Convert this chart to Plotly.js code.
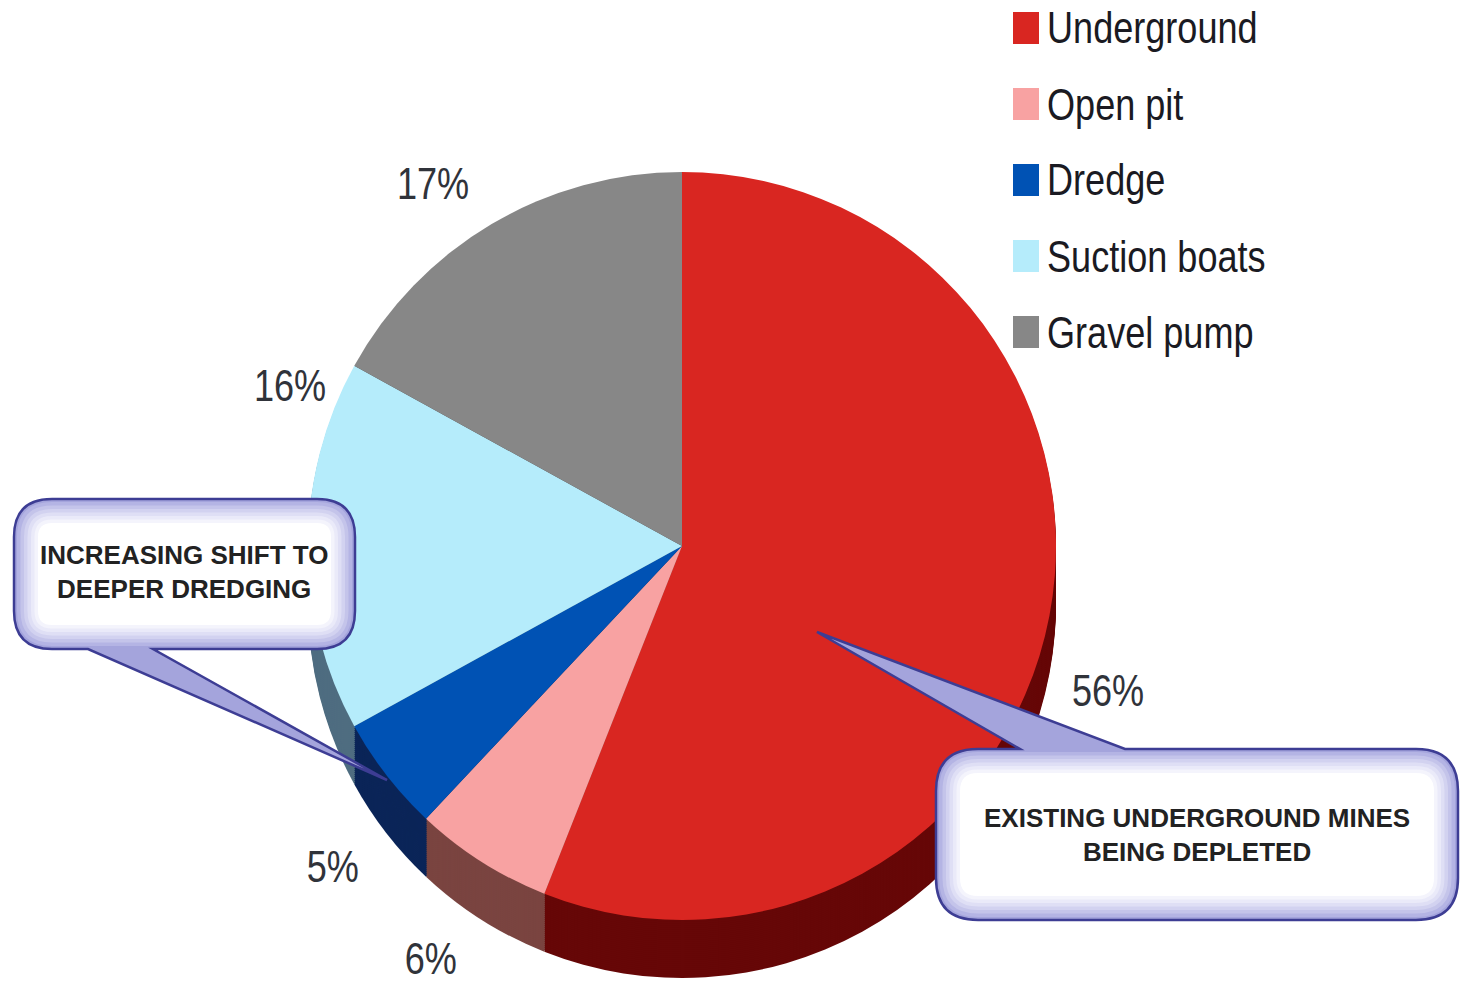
<!DOCTYPE html>
<html>
<head>
<meta charset="utf-8">
<script src="https://cdn.plot.ly/plotly-3.0.1.min.js"></script>
<style>html,body{margin:0;padding:0;background:#fff;}#chart{width:1462px;height:984px;}</style>
</head>
<body>
<div id="chart"></div>
<script>
// ---- data ----
const labels = ['Underground', 'Open pit', 'Dredge', 'Suction boats', 'Gravel pump'];
const values = [56, 6, 5, 16, 17];
const topColors = ['#d92621', '#f8a2a2', '#0052b4', '#b5ecfb', '#878787'];
const sideColors = ['#660707', '#7a4440', '#0b2558', '#4f6d80', '#4a4a4a'];
const calloutTexts = ['INCREASING SHIFT TO<br>DEEPER DREDGING', 'EXISTING UNDERGROUND MINES<br>BEING DEPLETED'];

// ---- layout helpers (pixels -> paper) ----
const W = 1462, H = 984;
const cx = 682, cy = 546, R = 374, depth = 58;
const px = x => x / W;
const py = y => 1 - y / H;
function dom(dy) {
  return { x: [px(cx - R), px(cx + R)], y: [py(cy + dy + R), py(cy + dy - R)] };
}
const FONT = '"Liberation Sans", Arial, sans-serif';

const traces = [];
for (let d = depth; d >= 1; d -= 2) {
  traces.push({
    type: 'pie', labels: labels, values: values, sort: false, direction: 'clockwise', rotation: 0,
    marker: { colors: sideColors, line: { width: 0 } }, textinfo: 'none', hoverinfo: 'none',
    showlegend: false, domain: dom(d)
  });
}
traces.push({
  type: 'pie', labels: labels, values: values, sort: false, direction: 'clockwise', rotation: 0,
  marker: { colors: topColors, line: { width: 0 } }, textinfo: 'none', hoverinfo: 'label+percent',
  showlegend: false, domain: dom(0)
});

// ---- percent labels (positions are layout) ----
const labelPos = [[1108, 690], [431, 958], [333, 866], [290, 385], [433, 183]];
const annotations = [];
values.forEach((v, i) => {
  annotations.push({
    xref: 'paper', yref: 'paper', x: px(labelPos[i][0]), y: py(labelPos[i][1]),
    xanchor: 'center', yanchor: 'middle', showarrow: false, text: v + '%',
    font: { family: FONT, size: 44, color: '#30333a' }
  });
});

// ---- custom legend ----
const shapes = [];
const legX = 1013, legY0 = 28, legStep = 76;
labels.forEach((l, i) => {
  const yc = legY0 + i * legStep;
  shapes.push({
    type: 'rect', xref: 'paper', yref: 'paper', layer: 'above',
    x0: px(legX), x1: px(legX + 26), y0: py(yc + 16), y1: py(yc - 16),
    fillcolor: topColors[i], line: { width: 0 }
  });
  annotations.push({
    xref: 'paper', yref: 'paper', x: px(1045), y: py(yc), xanchor: 'left', yanchor: 'middle',
    showarrow: false, text: l, font: { family: FONT, size: 44, color: '#1a1a22' }
  });
});

// ---- callouts ----
function P(x, y) { return px(x).toFixed(5) + ',' + py(y).toFixed(5); }
function roundRect(x0, y0, x1, y1, r) {
  return 'M' + P(x0 + r, y0) + ' L' + P(x1 - r, y0) + ' Q' + P(x1, y0) + ' ' + P(x1, y0 + r) +
    ' L' + P(x1, y1 - r) + ' Q' + P(x1, y1) + ' ' + P(x1 - r, y1) +
    ' L' + P(x0 + r, y1) + ' Q' + P(x0, y1) + ' ' + P(x0, y1 - r) +
    ' L' + P(x0, y0 + r) + ' Q' + P(x0, y0) + ' ' + P(x0 + r, y0) + ' Z';
}
function calloutBottomTail(x0, y0, x1, y1, r, ta, tb, tx, ty) {
  return 'M' + P(x0 + r, y0) + ' L' + P(x1 - r, y0) + ' Q' + P(x1, y0) + ' ' + P(x1, y0 + r) +
    ' L' + P(x1, y1 - r) + ' Q' + P(x1, y1) + ' ' + P(x1 - r, y1) +
    ' L' + P(tb, y1) + ' L' + P(tx, ty) + ' L' + P(ta, y1) +
    ' L' + P(x0 + r, y1) + ' Q' + P(x0, y1) + ' ' + P(x0, y1 - r) +
    ' L' + P(x0, y0 + r) + ' Q' + P(x0, y0) + ' ' + P(x0 + r, y0) + ' Z';
}
function calloutTopTail(x0, y0, x1, y1, r, ta, tb, tx, ty) {
  return 'M' + P(x0 + r, y0) + ' L' + P(ta, y0) + ' L' + P(tx, ty) + ' L' + P(tb, y0) +
    ' L' + P(x1 - r, y0) + ' Q' + P(x1, y0) + ' ' + P(x1, y0 + r) +
    ' L' + P(x1, y1 - r) + ' Q' + P(x1, y1) + ' ' + P(x1 - r, y1) +
    ' L' + P(x0 + r, y1) + ' Q' + P(x0, y1) + ' ' + P(x0, y1 - r) +
    ' L' + P(x0, y0 + r) + ' Q' + P(x0, y0) + ' ' + P(x0 + r, y0) + ' Z';
}
const glow = ['#b4b4e4', '#c4c4ea', '#d2d2f0', '#dfdff5', '#eaeaf9', '#f4f4fc', '#ffffff'];
function addCallout(box, pathStr) {
  shapes.push({ type: 'path', xref: 'paper', yref: 'paper', layer: 'above', path: pathStr,
    fillcolor: '#a4a4dc', line: { color: '#3d3d94', width: 2.5 } });
  glow.forEach((c, k) => {
    const ins = 3 + k * 3.5;
    shapes.push({ type: 'path', xref: 'paper', yref: 'paper', layer: 'above',
      path: roundRect(box[0] + ins, box[1] + ins, box[2] - ins, box[3] - ins, Math.max(box[4] - ins, 10)),
      fillcolor: c, line: { width: 0 } });
  });
}
const box1 = [14, 499, 355, 649, 38];
addCallout(box1, calloutBottomTail(box1[0], box1[1], box1[2], box1[3], box1[4], 88, 153, 387, 780));
const box2 = [936, 749, 1458, 920, 42];
addCallout(box2, calloutTopTail(box2[0], box2[1], box2[2], box2[3], box2[4], 1020, 1125, 817, 632));

const CFONT = { family: '"Liberation Sans", Arial, sans-serif', size: 26, color: '#222', weight: 700 };
annotations.push({ xref: 'paper', yref: 'paper', x: px(184), y: py(572), xanchor: 'center', yanchor: 'middle',
  showarrow: false, text: calloutTexts[0], align: 'center', font: CFONT });
annotations.push({ xref: 'paper', yref: 'paper', x: px(1197), y: py(835), xanchor: 'center', yanchor: 'middle',
  showarrow: false, text: calloutTexts[1], align: 'center', font: CFONT });

const layout = {
  width: W, height: H, margin: { l: 0, r: 0, t: 0, b: 0 },
  paper_bgcolor: '#ffffff', plot_bgcolor: '#ffffff',
  showlegend: false, shapes: shapes, annotations: annotations
};
Plotly.newPlot('chart', traces, layout, { displayModeBar: false, staticPlot: true }).then(gd => {
  // condense the percent and legend labels horizontally (reference uses a narrow face)
  const nCond = values.length + labels.length;
  gd.querySelectorAll('g.annotation').forEach(g => {
    const idx = +g.getAttribute('data-index');
    if (idx < nCond) {
      const t = g.querySelector('text.annotation-text');
      if (t) {
        t.style.transformBox = 'fill-box';
        t.style.transformOrigin = idx < values.length ? 'center' : 'left center';
        t.style.transform = 'scaleX(0.82)';
      }
    }
  });
});
</script>
</body>
</html>
